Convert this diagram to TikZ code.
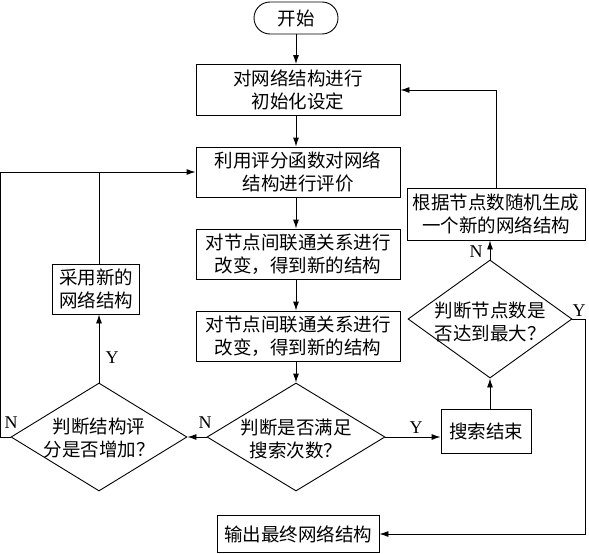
\documentclass[tikz,border=0pt]{standalone}
\usepackage{fontspec}
\setmainfont{Liberation Serif}
\newfontfamily\cjk{Noto Sans CJK SC}
\usetikzlibrary{shapes.geometric, arrows.meta}

\begin{document}
\begin{tikzpicture}[x=1pt, y=-1pt, line width=0.9pt,
    box/.style={draw, align=center, inner sep=0pt, font=\cjk\fontsize{18.5}{22.5}\selectfont},
    dia/.style={draw, diamond, inner sep=0pt},
    txt/.style={align=center, inner sep=0pt, font=\cjk\fontsize{18.5}{22.5}\selectfont},
    lbl/.style={inner sep=0pt, font=\fontsize{18}{20}\selectfont},
    arr/.style={-{Latex[length=9pt, width=6pt]}}]
    \useasboundingbox (0,0) rectangle (589,554);

    % 主流程
    \node[box, rounded corners=16pt, minimum width=84pt, minimum height=32pt] (start) at (296,18) {开始};
    \node[box, minimum width=204pt, minimum height=51pt] (init) at (298,90) {对网络结构进行\\初始化设定};
    \node[box, minimum width=204pt, minimum height=50pt] (eval) at (298,172) {利用评分函数对网络\\结构进行评价};
    \node[box, minimum width=204pt, minimum height=50pt] (change1) at (298,254) {对节点间联通关系进行\\改变，得到新的结构};
    \node[box, minimum width=204pt, minimum height=50pt] (change2) at (298,336) {对节点间联通关系进行\\改变，得到新的结构};

    % 判断框
    \node[dia, minimum width=178pt, minimum height=108pt] (times) at (296,437) {};
    \node[txt, yshift=-2pt] (timestext) at (times) {判断是否满足\\搜索次数？};
    \node[dia, minimum width=176pt, minimum height=108pt] (score) at (99,437) {};
    \node[txt, yshift=-1pt] (scoretext) at (score) {判断结构评\\分是否增加？};
    \node[dia, minimum width=164pt, minimum height=118pt] (maxn) at (490,319) {};
    \node[txt, yshift=-3pt] (maxntext) at (maxn) {判断节点数是\\否达到最大？};

    % 其余方框
    \node[box, minimum width=87pt, minimum height=50pt] (adopt) at (96,289) {采用新的\\网络结构};
    \node[box, minimum width=90pt, minimum height=44pt] (stop) at (486,431) {搜索结束};
    \node[box, minimum width=178pt, minimum height=52pt] (gen) at (496,214) {根据节点数随机生成\\一个新的网络结构};
    \node[box, minimum width=162pt, minimum height=37pt] (out) at (298,534) {输出最终网络结构};

    % 连线
    \draw[arr] (start.south) -- (init.north -| start.south);
    \draw[arr] (init.south -| times.north) -- (eval.north -| times.north);
    \draw[arr] (eval.south -| times.north) -- (change1.north -| times.north);
    \draw[arr] (change1.south -| times.north) -- (change2.north -| times.north);
    \draw[arr] (change2.south -| times.north) -- (times.north);
    \draw[arr] (times.west) -- (score.east);
    \draw[arr] (score.north) -- (score.north |- adopt.south);
    \draw (score.north |- adopt.north) -- (score.north |- eval.west);
    \draw[arr] (score.west) -- ++(-10,0) |- (eval.west);
    \draw[arr] (times.east) -- (times.east -| stop.west);
    \draw[arr] (maxn.south |- stop.north) -- (maxn.south);
    \draw[arr] (maxn.north) -- (maxn.north |- gen.south);
    \draw[arr] (gen.north) |- (init.east);
    \draw[arr] (maxn.east) -- ++(13,0) |- (out.east);

    % 标注
    \node[lbl] (n1) at (11,423) {N};
    \node[lbl] (n2) at (205,423) {N};
    \node[lbl] (y1) at (112,358) {Y};
    \node[lbl] (y2) at (416,428) {Y};
    \node[lbl] (n3) at (476,252) {N};
    \node[lbl] (y3) at (579,311) {Y};
\end{tikzpicture}
\end{document}
